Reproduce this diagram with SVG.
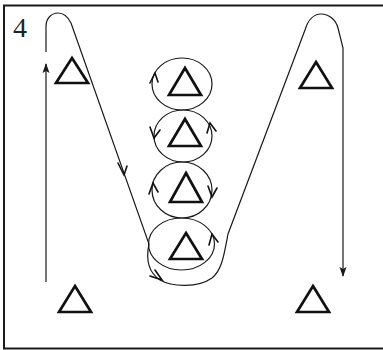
<svg xmlns="http://www.w3.org/2000/svg" width="383" height="350" viewBox="0 0 383 350">
<defs>
<style>
.ln{fill:none;stroke:#1a1a1a;stroke-width:1.2}
.tri{fill:none;stroke:#111;stroke-width:2.7;stroke-linejoin:miter}
.hv{fill:none;stroke:#111;stroke-width:1.6;stroke-linecap:round;stroke-linejoin:miter}
.lbl{font-family:"Liberation Serif","Times New Roman",serif;font-size:28px;fill:#222}
</style>
<marker id="ah" markerWidth="10" markerHeight="8" refX="9" refY="4" orient="auto" markerUnits="userSpaceOnUse">
<path d="M0,0.5 L10,4 L0,7.5 L2,4 Z" fill="#1a1a1a"/>
</marker>
</defs>
<rect x="0" y="0" width="383" height="350" fill="#fff"/>
<rect x="4" y="5.5" width="392" height="343" fill="none" stroke="#1a1a1a" stroke-width="2"/>
<text class="lbl" x="13" y="37">4</text>

<g id="cone-top-left"><path class="tri" d="M72,58 L88,83 L56,83 Z"/></g>
<g id="cone-top-right"><path class="tri" d="M316,62 L332,88 L300,88 Z"/></g>
<g id="cone-bottom-left"><path class="tri" d="M75,286 L91,312 L59,312 Z"/></g>
<g id="cone-bottom-right"><path class="tri" d="M313,286 L329,312 L297,312 Z"/></g>
<g id="cone-1"><path class="tri" d="M185,68 L201,95 L169,95 Z"/></g>
<g id="cone-2"><path class="tri" d="M185,119 L201,146 L169,146 Z"/></g>
<g id="cone-3"><path class="tri" d="M186,173 L202,202 L170,202 Z"/></g>
<g id="cone-4"><path class="tri" d="M186,233 L202,259 L170,259 Z"/></g>

<g id="connectors">
<line class="ln" x1="46" y1="282" x2="46" y2="64" marker-end="url(#ah)"/>
<path class="ln" d="M46,52 L46,26 C46,18 52,13 58,13 C64,13 68,17 71,23 L149,244 C146,258 148,272 160,280 C172,287 198,288 212,278 C222,270 224,255 228,234 L305,30 C308,20 314,14 321,14 C329,14 336,20 338,28 L343,48 L343,276" marker-end="url(#ah)"/>
<path class="hv" d="M118,163 L124,175 L127,166"/>
<path class="hv" d="M150,276 L162,280 L155,270"/>

<ellipse class="ln" cx="182" cy="84" rx="30" ry="26"/>
<ellipse class="ln" cx="183" cy="136" rx="29" ry="26"/>
<ellipse class="ln" cx="182" cy="190" rx="30" ry="28"/>
<ellipse class="ln" cx="181.5" cy="244" rx="33" ry="26"/>

<path class="hv" d="M150,83 L155,73 L158,82"/>
<path class="hv" d="M150,127 L154,138 L160,130"/>
<path class="hv" d="M207,133 L210,123 L216,131"/>
<path class="hv" d="M149,194 L153,183 L158,192"/>
<path class="hv" d="M208,186 L212,197 L217,188"/>
<path class="hv" d="M209,245 L212,234 L218,242"/>
</g>
</svg>
